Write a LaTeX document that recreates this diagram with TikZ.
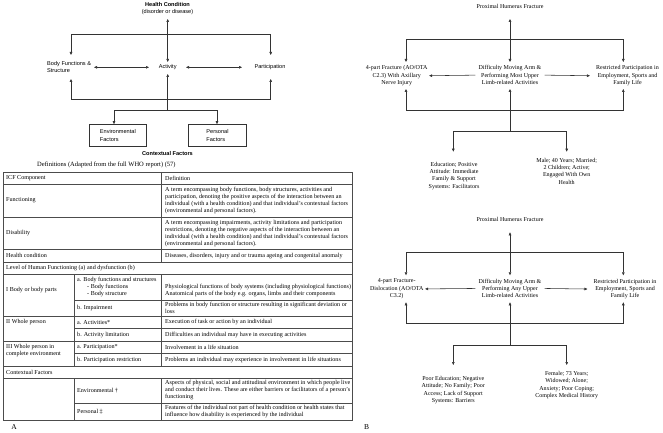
\documentclass[tikz,border=0pt]{standalone}
\usepackage{fontspec}
\setmainfont{Liberation Serif}
\newfontfamily\arialf{Liberation Sans}
\usetikzlibrary{arrows.meta}
\begin{document}
\begin{tikzpicture}[x=1pt,y=-1pt,
  ln/.style={draw=black!80, line width=0.55pt},
  arr/.style={ln,-{Triangle[length=3pt,width=2.6pt]}},
  darr/.style={ln,{Triangle[length=3pt,width=2.6pt]}-{Triangle[length=3pt,width=2.6pt]}},
  sf/.style={font=\arialf\fontsize{5.6}{7.4}\selectfont, inner sep=0pt},
  rm/.style={font=\fontsize{6}{7.3}\selectfont, inner sep=0pt, align=center, anchor=north},
  tb/.style={font=\fontsize{6.1}{7}\selectfont, inner sep=0pt, align=left, anchor=west},
  tl/.style={draw=black!70, line width=0.45pt},
  fbox/.style={draw=black!80, line width=0.55pt, minimum width=57.7pt, minimum height=22.3pt, inner sep=0pt, align=left},
  lab/.style={font=\fontsize{7.5}{8}\selectfont, inner sep=0pt}
]
\useasboundingbox (0,0) rectangle (663,433);

% ---------------- Left ICF diagram ----------------
\node[sf, align=center, anchor=north] (hc) at (167.5,2.2) {\textbf{Health Condition}\\(disorder or disease)};
\node[sf, align=left, anchor=north west] (bfs) at (47,60.8) {Body Functions \&\\Structure};
\node[sf] (act) at (167.7,67.3) {Activity};
\node[sf] (par) at (270,67.3) {Participation};
\node[fbox, sf] (env) at (117.85,135.4) {Environmental\\Factors};
\node[fbox, sf] (pers) at (217.5,135.4) {Personal\\Factors};
\node[sf, anchor=north] (ctx) at (167.5,151.6) {\textbf{Contextual Factors}};

\coordinate (hcS) at (167.7,19);
\coordinate (actN) at (167.7,62);
\coordinate (actS) at (167.7,74);
\coordinate (actW) at (149,67.3);
\coordinate (actE) at (186,67.3);
\coordinate (bfsE) at (94,67.3);
\coordinate (parW) at (242,67.3);
\coordinate (bfsN) at (71,55);
\coordinate (tl) at (71,34.3);
\coordinate (tr) at (270.7,34.3);
\coordinate (parN) at (270.7,55);
\coordinate (bfsS) at (71,79);
\coordinate (bl) at (71,99);
\coordinate (br) at (270.7,99);
\coordinate (parS) at (270.7,79);
\coordinate (fk) at (167.7,110);
\coordinate (fkl) at (114,110);
\coordinate (fkr) at (217,110);
\coordinate (envN) at (114,124.2);
\coordinate (persN) at (217,124.2);

\draw[darr] (hcS) -- (actN);
\draw[darr] (bfsN) -- (tl) -- (tr) -- (parN);
\draw[darr] (bfsS) -- (bl) -- (br) -- (parS);
\draw[darr] (bfsE) -- (actW);
\draw[darr] (actE) -- (parW);
\draw[arr] (fk) -- (actS);
\draw[darr] (envN) -- (fkl) -- (fkr) -- (persN);

% ---------------- Table ----------------
\node[tb, font=\fontsize{6.5}{7}\selectfont] (defs) at (37,165) {Definitions (Adapted from the full WHO report) (57)};

\draw[tl] (3,172) rectangle (352,420);
\foreach \yy in {184,217,249.5,262,274,316,341,366,378}
  \draw[tl] (3,\yy) -- (352,\yy);
\foreach \yy in {300,328.5,353.5,403}
  \draw[tl] (74,\yy) -- (352,\yy);
\draw[tl] (161,172) -- (161,262);
\draw[tl] (161,274) -- (161,366);
\draw[tl] (161,378) -- (161,420);
\draw[tl] (74,274) -- (74,366);
\draw[tl] (74,378) -- (74,420);

\node[tb] (h1) at (6,178) {ICF Component};
\node[tb] (h2) at (165,178) {Definition};
\node[tb] (f1) at (6,200.5) {Functioning};
\node[tb] (f2) at (165,200.5) {A term encompassing body functions, body structures, activities and\\participation, denoting the positive aspects of the interaction between an\\individual (with a health condition) and that individual’s contextual factors\\(environmental and personal factors).};
\node[tb] (d1) at (6,233.25) {Disability};
\node[tb] (d2) at (165,233.25) {A term encompassing impairments, activity limitations and participation\\restrictions, denoting the negative aspects of the interaction between an\\individual (with a health condition) and that individual’s contextual factors\\(environmental and personal factors).};
\node[tb] (c1) at (6,255.75) {Health condition};
\node[tb] (c2) at (165,255.75) {Diseases, disorders, injury and or trauma ageing and congenital anomaly};
\node[tb] (lv) at (6,268) {Level of Human Functioning (a) and dysfunction (b)};
\node[tb] (b1) at (6,290) {I Body or body parts};
\node[tb] (b2) at (77,287) {a. Body functions and structures\\\hspace*{10pt}- Body functions\\\hspace*{10pt}- Body structure};
\node[tb] (b3) at (165,290.5) {Physiological functions of body systems (including physiological functions)\\Anatomical parts of the body e.g. organs, limbs and their components};
\node[tb] (i2) at (77,308) {b. Impairment};
\node[tb] (i3) at (165,308) {Problems in body function or structure resulting in significant deviation or\\loss};
\node[tb] (w1) at (6,322.25) {II Whole person};
\node[tb] (a2) at (77,322.25) {a. Activities*};
\node[tb] (a3) at (165,322.25) {Execution of task or action by an individual};
\node[tb] (al2) at (77,334.75) {b. Activity limitation};
\node[tb] (al3) at (165,334.75) {Difficulties an individual may have in executing activities};
\node[tb] (e1) at (6,350.75) {III Whole person in\\complete environment};
\node[tb] (pa2) at (77,347.25) {a. Participation*};
\node[tb] (pa3) at (165,347.25) {Involvement in a life situation};
\node[tb] (pr2) at (77,359.75) {b. Participation restriction};
\node[tb] (pr3) at (165,359.75) {Problems an individual may experience in involvement in life situations};
\node[tb] (cf) at (6,372) {Contextual Factors};
\node[tb] (ev2) at (77,390.5) {Environmental †};
\node[tb] (ev3) at (165,390.5) {Aspects of physical, social and attitudinal environment in which people live\\and conduct their lives. These are either barriers or facilitators of a person’s\\functioning};
\node[tb] (ps2) at (77,411.5) {Personal ‡};
\node[tb] (ps3) at (165,411.5) {Features of the individual not part of health condition or health states that\\influence how disability is experienced by the individual};

\node[lab] (labA) at (14,427) {A};
\node[lab] (labB) at (366.7,427) {B};

% ---------------- Right diagram 1 ----------------
\node[rm] (t1) at (510,4.3) {Proximal Humerus Fracture};
\node[rm] (l1) at (396.7,65.5) {4-part Fracture (AO/OTA\\C2.3) With Axillary\\Nerve Injury};
\node[rm] (m1) at (510,65.5) {Difficulty Moving Arm \&\\Performing Most Upper\\Limb-related Activities};
\node[rm] (r1) at (627.5,65.5) {Restricted Participation in\\Employment, Sports and\\Family Life};
\node[rm] (e1b) at (454,161.8) {Education; Positive\\Attitude: Immediate\\Family \& Support\\Systems: Facilitators};
\node[rm] (p1) at (566.7,157.8) {Male; 40 Years; Married;\\2 Children; Active;\\Engaged With Own\\Health};

\coordinate (t1s) at (510,19);
\coordinate (m1n) at (510,62);
\coordinate (l1n) at (406,62);
\coordinate (tl1) at (406,39.3);
\coordinate (tr1) at (623.3,39.3);
\coordinate (r1n) at (623.3,62);
\coordinate (l1s) at (406,89);
\coordinate (bl1) at (406,110);
\coordinate (br1) at (623.3,110);
\coordinate (r1s) at (623.3,89);
\coordinate (m1s) at (510,89);
\coordinate (fk1) at (510,131.7);
\coordinate (fl1) at (453.3,131.7);
\coordinate (fr1) at (566.7,131.7);
\coordinate (e1n) at (453.3,151.7);
\coordinate (p1n) at (566.7,151.7);

\draw[darr] (t1s) -- (m1n);
\draw[darr] (l1n) -- (tl1) -- (tr1) -- (r1n);
\draw[darr] (l1s) -- (bl1) -- (br1) -- (r1s);
\draw[arr] (fk1) -- (m1s);
\draw[darr] (e1n) -- (fl1) -- (fr1) -- (p1n);
\draw[arr] ([xshift=-3pt]m1.west) -- ([xshift=1.5pt]l1.east);
\draw[arr] ([xshift=3pt]m1.east) -- ([xshift=-6pt]r1.west);

% ---------------- Right diagram 2 ----------------
\begin{scope}[shift={(0,213.3)}]
\node[rm] (t2) at (510,4.3) {Proximal Humerus Fracture};
\node[rm] (l2) at (396.7,65.5) {4-part Fracture-\\Dislocation (AO/OTA\\C3.2)};
\node[rm] (m2) at (510,65.5) {Difficulty Moving Arm \&\\Performing Any Upper\\Limb-related Activities};
\node[rm] (r2) at (625,65.5) {Restricted Participation in\\Employment, Sports and\\Family Life};
\node[rm] (e2) at (453.3,162.8) {Poor Education; Negative\\Attitude; No Family; Poor\\Access; Lack of Support\\Systems: Barriers};
\node[rm] (p2) at (566.7,157.8) {Female; 73 Years;\\Widowed; Alone;\\Anxiety; Poor Coping;\\Complex Medical History};

\coordinate (t2s) at (510,19);
\coordinate (m2n) at (510,62);
\coordinate (l2n) at (406,62);
\coordinate (tl2) at (406,39.3);
\coordinate (tr2) at (623.3,39.3);
\coordinate (r2n) at (623.3,62);
\coordinate (l2s) at (406,89);
\coordinate (bl2) at (406,110);
\coordinate (br2) at (623.3,110);
\coordinate (r2s) at (623.3,89);
\coordinate (m2s) at (510,89);
\coordinate (fk2) at (510,131.7);
\coordinate (fl2) at (453.3,131.7);
\coordinate (fr2) at (566.7,131.7);
\coordinate (e2n) at (453.3,151.7);
\coordinate (p2n) at (566.7,151.7);

\draw[darr] (t2s) -- (m2n);
\draw[darr] (l2n) -- (tl2) -- (tr2) -- (r2n);
\draw[darr] (l2s) -- (bl2) -- (br2) -- (r2s);
\draw[arr] (fk2) -- (m2s);
\draw[darr] (e2n) -- (fl2) -- (fr2) -- (p2n);
\draw[arr] ([xshift=-3pt]m2.west) -- ([xshift=1.5pt]l2.east);
\draw[arr] ([xshift=3pt]m2.east) -- ([xshift=-6pt]r2.west);
\end{scope}
\end{tikzpicture}
\end{document}
